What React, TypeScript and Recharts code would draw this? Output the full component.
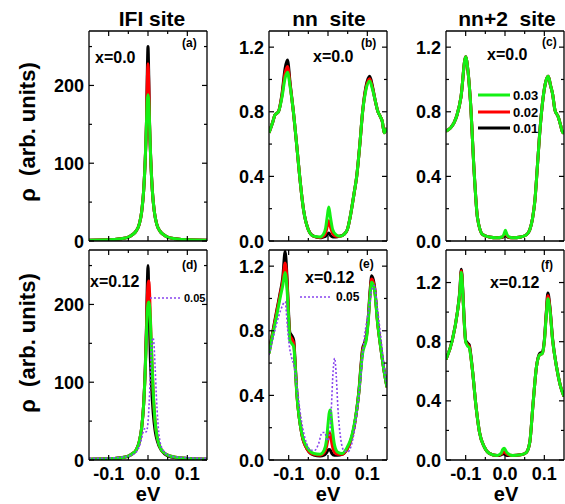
import React from 'react';
import { LineChart, Line, XAxis, YAxis, ReferenceLine } from 'recharts';

const FONT = '"Liberation Sans", Arial, Helvetica, sans-serif';
const BLACK = '#000000';
const RED = '#ff0000';
const GREEN = '#14f014';
const PURPLE = '#8844ee';

// axis ticks
const xTicks = [-0.1, -0.05, 0, 0.05, 0.1];
const ifiTicks = [0, 50, 100, 150, 200, 250];
const nnTicks = [0, 0.2, 0.4, 0.6, 0.8, 1.0, 1.2];

// (a) IFI site, x=0.0
const aX = [-0.15, -0.1, -0.07, -0.05, -0.04, -0.03, -0.022, -0.016, -0.011, -0.007, -0.004, -0.002, 0, 0.002, 0.004, 0.007, 0.011, 0.016, 0.022, 0.03, 0.04, 0.05, 0.07, 0.1, 0.15];
const aBlack = [1, 1.5, 3, 5, 8, 13, 22, 38, 65, 105, 150, 210, 250, 210, 150, 105, 65, 38, 22, 13, 8, 5, 3, 1.5, 1];
const aRed = [1, 1.5, 3, 5, 8, 13, 22, 38, 65, 105, 150, 200, 228, 200, 150, 105, 65, 38, 22, 13, 8, 5, 3, 1.5, 1];
const aGreen = [1, 1.5, 3, 5, 8, 13, 22, 38, 65, 105, 150, 180, 188, 180, 150, 105, 65, 38, 22, 13, 8, 5, 3, 1.5, 1];

// (d) IFI site, x=0.12
const dX = [-0.15, -0.1, -0.07, -0.05, -0.04, -0.03, -0.022, -0.016, -0.011, -0.007, -0.004, -0.002, 0, 0.002, 0.004, 0.006, 0.009, 0.013, 0.018, 0.024, 0.032, 0.042, 0.052, 0.07, 0.1, 0.15];
const dBlack = [1, 1.5, 3, 5, 8, 13, 24, 42, 72, 118, 170, 220, 250, 215, 170, 130, 95, 62, 38, 24, 14, 8, 5, 3, 2, 1];
const dRed = [1, 1.5, 3, 5, 8, 13, 24, 42, 72, 115, 165, 205, 225, 230, 215, 185, 140, 90, 50, 28, 15, 9, 6, 3.5, 2, 1];
const dGreen = [1, 1.5, 3, 5, 8, 13, 24, 42, 72, 115, 160, 190, 200, 203, 198, 180, 140, 90, 50, 28, 15, 9, 6, 3.5, 2, 1];
const dPX = [-0.15, -0.1, -0.07, -0.05, -0.035, -0.025, -0.018, -0.013, -0.009, -0.005, -0.002, 0.001, 0.004, 0.007, 0.01, 0.013, 0.015, 0.018, 0.021, 0.025, 0.03, 0.038, 0.05, 0.07, 0.1, 0.15];
const dPurple = [2, 2.5, 3.5, 5, 8, 14, 24, 35, 40, 36, 40, 55, 85, 125, 150, 157, 150, 120, 85, 50, 25, 13, 7, 4, 3, 2];

// (b) nn site, x=0.0
const bX = [-0.15, -0.14, -0.135, -0.126, -0.117, -0.109, -0.103, -0.096, -0.088, -0.079, -0.072, -0.062, -0.05, -0.037, -0.02, -0.012, -0.006, -0.002, 0.002, 0.006, 0.012, 0.02, 0.03, 0.04, 0.049, 0.058, 0.066, 0.073, 0.081, 0.088, 0.096, 0.106, 0.112, 0.12, 0.127, 0.133, 0.138, 0.143, 0.15];
const bBlack = [0.67, 0.74, 0.78, 0.80, 0.91, 1.07, 1.12, 0.97, 0.80, 0.58, 0.40, 0.19, 0.07, 0.03, 0.02, 0.025, 0.03, 0.04, 0.05, 0.035, 0.025, 0.025, 0.03, 0.04, 0.07, 0.17, 0.29, 0.40, 0.60, 0.80, 0.95, 1.02, 0.97, 0.87, 0.80, 0.77, 0.74, 0.67, 0.70];
const bRed = [0.67, 0.74, 0.78, 0.80, 0.90, 1.04, 1.08, 0.96, 0.80, 0.58, 0.40, 0.19, 0.07, 0.03, 0.022, 0.03, 0.05, 0.09, 0.125, 0.09, 0.045, 0.03, 0.03, 0.04, 0.07, 0.17, 0.29, 0.40, 0.60, 0.80, 0.94, 1.005, 0.96, 0.87, 0.80, 0.77, 0.74, 0.67, 0.70];
const bGreen = [0.67, 0.74, 0.78, 0.80, 0.89, 1.01, 1.045, 0.95, 0.80, 0.58, 0.40, 0.19, 0.07, 0.03, 0.025, 0.04, 0.08, 0.15, 0.21, 0.15, 0.07, 0.04, 0.03, 0.04, 0.07, 0.17, 0.29, 0.40, 0.60, 0.80, 0.93, 0.99, 0.95, 0.87, 0.80, 0.77, 0.74, 0.67, 0.70];

// (e) nn site, x=0.12
const eX = [-0.15, -0.14, -0.13, -0.122, -0.115, -0.109, -0.104, -0.1, -0.097, -0.092, -0.087, -0.083, -0.079, -0.074, -0.07, -0.064, -0.058, -0.048, -0.036, -0.02, -0.01, -0.004, 0.0, 0.003, 0.006, 0.01, 0.016, 0.024, 0.036, 0.049, 0.058, 0.066, 0.073, 0.079, 0.084, 0.088, 0.092, 0.097, 0.102, 0.107, 0.111, 0.118, 0.126, 0.135, 0.142, 0.15];
const eBlack = [0.67, 0.80, 0.93, 1.03, 1.13, 1.29, 1.12, 0.90, 0.79, 0.77, 0.74, 0.58, 0.41, 0.28, 0.21, 0.13, 0.09, 0.05, 0.03, 0.025, 0.03, 0.045, 0.06, 0.065, 0.06, 0.04, 0.03, 0.03, 0.035, 0.07, 0.12, 0.20, 0.31, 0.44, 0.59, 0.69, 0.72, 0.76, 0.87, 1.05, 1.14, 1.08, 0.86, 0.68, 0.56, 0.45];
const eRed = [0.66, 0.79, 0.92, 1.02, 1.11, 1.22, 1.10, 0.88, 0.77, 0.75, 0.72, 0.57, 0.40, 0.28, 0.21, 0.13, 0.09, 0.05, 0.035, 0.03, 0.045, 0.08, 0.13, 0.17, 0.16, 0.10, 0.05, 0.035, 0.035, 0.07, 0.12, 0.20, 0.31, 0.43, 0.58, 0.68, 0.71, 0.75, 0.86, 1.03, 1.12, 1.07, 0.85, 0.68, 0.56, 0.45];
const eGreen = [0.66, 0.78, 0.90, 1.00, 1.08, 1.16, 1.05, 0.87, 0.74, 0.72, 0.70, 0.56, 0.40, 0.28, 0.21, 0.14, 0.10, 0.06, 0.04, 0.035, 0.06, 0.12, 0.22, 0.29, 0.31, 0.22, 0.10, 0.05, 0.04, 0.08, 0.13, 0.21, 0.31, 0.43, 0.57, 0.66, 0.70, 0.74, 0.85, 1.02, 1.10, 1.06, 0.85, 0.68, 0.56, 0.45];
const ePX = [-0.15, -0.14, -0.13, -0.12, -0.109, -0.103, -0.098, -0.092, -0.086, -0.079, -0.071, -0.062, -0.054, -0.044, -0.034, -0.024, -0.015, -0.008, -0.002, 0.003, 0.008, 0.013, 0.017, 0.021, 0.025, 0.029, 0.033, 0.04, 0.05, 0.058, 0.064, 0.07, 0.077, 0.083, 0.088, 0.092, 0.098, 0.105, 0.111, 0.118, 0.125, 0.131, 0.138, 0.144, 0.15];
const ePurple = [0.65, 0.75, 0.85, 0.93, 0.98, 0.82, 0.70, 0.63, 0.58, 0.46, 0.30, 0.17, 0.10, 0.06, 0.06, 0.10, 0.17, 0.17, 0.12, 0.14, 0.30, 0.55, 0.63, 0.52, 0.33, 0.20, 0.12, 0.06, 0.05, 0.08, 0.14, 0.23, 0.36, 0.50, 0.65, 0.75, 0.85, 0.95, 1.05, 1.08, 0.95, 0.83, 0.68, 0.55, 0.46];

// (c) nn+2 site, x=0.0
const cX = [-0.15, -0.13, -0.122, -0.112, -0.1, -0.094, -0.088, -0.078, -0.07, -0.057, -0.04, -0.02, -0.008, -0.003, 0.001, 0.005, 0.01, 0.02, 0.04, 0.055, 0.063, 0.07, 0.076, 0.082, 0.088, 0.097, 0.104, 0.11, 0.116, 0.121, 0.127, 0.135, 0.141, 0.147, 0.15];
const cBlack = [0.68, 0.73, 0.78, 0.89, 1.14, 1.05, 0.87, 0.41, 0.145, 0.04, 0.025, 0.02, 0.022, 0.028, 0.035, 0.028, 0.022, 0.02, 0.025, 0.04, 0.07, 0.14, 0.25, 0.45, 0.66, 0.89, 0.99, 1.02, 0.96, 0.91, 0.81, 0.77, 0.72, 0.67, 0.68];
const cRed = [0.68, 0.73, 0.78, 0.89, 1.14, 1.05, 0.87, 0.41, 0.145, 0.04, 0.025, 0.02, 0.023, 0.032, 0.045, 0.032, 0.023, 0.02, 0.025, 0.04, 0.07, 0.14, 0.25, 0.45, 0.66, 0.89, 0.99, 1.02, 0.96, 0.91, 0.81, 0.77, 0.72, 0.67, 0.68];
const cGreen = [0.68, 0.73, 0.78, 0.89, 1.14, 1.05, 0.87, 0.41, 0.145, 0.04, 0.025, 0.02, 0.025, 0.04, 0.066, 0.04, 0.025, 0.02, 0.025, 0.04, 0.07, 0.14, 0.25, 0.45, 0.66, 0.89, 0.99, 1.02, 0.96, 0.91, 0.81, 0.77, 0.72, 0.67, 0.68];

// (f) nn+2 site, x=0.12
const fX = [-0.15, -0.134, -0.121, -0.115, -0.111, -0.107, -0.104, -0.1, -0.095, -0.091, -0.086, -0.082, -0.074, -0.065, -0.053, -0.04, -0.02, -0.01, -0.006, -0.002, 0.005, 0.02, 0.04, 0.054, 0.063, 0.071, 0.08, 0.088, 0.095, 0.1, 0.105, 0.109, 0.114, 0.121, 0.131, 0.141, 0.15];
const fBlack = [0.68, 0.81, 1.0, 1.14, 1.29, 1.13, 0.96, 0.81, 0.79, 0.78, 0.69, 0.59, 0.37, 0.19, 0.09, 0.045, 0.03, 0.035, 0.04, 0.04, 0.03, 0.03, 0.035, 0.05, 0.12, 0.37, 0.63, 0.72, 0.73, 0.81, 1.0, 1.13, 1.04, 0.82, 0.63, 0.50, 0.43];
const fRed = [0.68, 0.81, 1.0, 1.13, 1.28, 1.12, 0.95, 0.80, 0.78, 0.77, 0.68, 0.59, 0.37, 0.19, 0.09, 0.045, 0.03, 0.04, 0.05, 0.055, 0.04, 0.03, 0.035, 0.05, 0.12, 0.37, 0.63, 0.71, 0.72, 0.80, 0.99, 1.11, 1.03, 0.81, 0.63, 0.50, 0.43];
const fGreen = [0.68, 0.81, 1.0, 1.13, 1.27, 1.12, 0.95, 0.80, 0.77, 0.76, 0.68, 0.59, 0.37, 0.19, 0.09, 0.045, 0.03, 0.045, 0.07, 0.08, 0.05, 0.03, 0.035, 0.05, 0.12, 0.37, 0.63, 0.71, 0.72, 0.80, 0.98, 1.09, 1.02, 0.81, 0.63, 0.50, 0.43];

const zip = (xs: number[], ys: number[]) => xs.map((x, i) => ({ x, y: ys[i] }));

// plot box geometry (pixels)
const PW = 118;
const PH = 210;
const YW = 45;
const XH = 40;
const MT = 2;
const MR = 1;

type Series = { data: { x: number; y: number }[]; color: string; dotted?: boolean };

const isMult = (v: number, step: number) => Math.abs(v / step - Math.round(v / step)) < 1e-6;

function Panel(props: {
  left: number;
  top: number;
  yMax: number;
  yTicks: number[];
  yStep: number;
  yFmt: (v: number) => string;
  xLabels: boolean;
  series: Series[];
}) {
  const { left, top, yMax, yTicks, yStep, yFmt, xLabels, series } = props;
  const W = YW + PW + MR;
  const H = MT + PH + XH;
  const plotRight = W - MR;

  const xTick = (p: any) => {
    const v = p.payload.value;
    const major = isMult(v, 0.1);
    const len = major ? 5 : 3;
    return (
      <g>
        <line x1={p.x} x2={p.x} y1={p.y} y2={p.y - len} stroke="#000" strokeWidth={1.2} />
        <line x1={p.x} x2={p.x} y1={MT} y2={MT + len} stroke="#000" strokeWidth={1.2} />
        {xLabels && major && (
          <text x={p.x} y={p.y + 20} textAnchor="middle" fontFamily={FONT} fontWeight="bold" fontSize={18} fill="#000">
            {v.toFixed(1)}
          </text>
        )}
      </g>
    );
  };

  const yTick = (p: any) => {
    const v = p.payload.value;
    const major = isMult(v, yStep);
    const len = major ? 5 : 3;
    return (
      <g>
        <line x1={p.x} x2={p.x + len} y1={p.y} y2={p.y} stroke="#000" strokeWidth={1.2} />
        <line x1={plotRight} x2={plotRight - len} y1={p.y} y2={p.y} stroke="#000" strokeWidth={1.2} />
        {major && (
          <text x={p.x - 5} y={p.y + 6.5} textAnchor="end" fontFamily={FONT} fontWeight="bold" fontSize={18} fill="#000">
            {yFmt(v)}
          </text>
        )}
      </g>
    );
  };

  return (
    <div style={{ position: 'absolute', left: left - YW, top: top - MT }}>
      <LineChart width={W} height={H} margin={{ top: MT, right: MR, bottom: 0, left: 0 }}>
        <XAxis
          type="number"
          dataKey="x"
          domain={[-0.15, 0.15]}
          ticks={xTicks}
          interval={0}
          allowDataOverflow
          height={XH}
          tickSize={0}
          tickMargin={0}
          tickLine={false}
          axisLine={{ stroke: '#000', strokeWidth: 1.3 }}
          tick={xTick}
        />
        <YAxis
          type="number"
          domain={[0, yMax]}
          ticks={yTicks}
          interval={0}
          allowDataOverflow
          width={YW}
          tickSize={0}
          tickMargin={0}
          tickLine={false}
          axisLine={{ stroke: '#000', strokeWidth: 1.3 }}
          tick={yTick}
        />
        {series.map((s, i) => (
          <Line
            key={i}
            data={s.data}
            dataKey="y"
            type="monotone"
            stroke={s.color}
            strokeWidth={s.dotted ? 1.6 : 3}
            strokeDasharray={s.dotted ? '2 2' : undefined}
            strokeLinejoin="round"
            dot={false}
            activeDot={false}
            isAnimationActive={false}
          />
        ))}
        <ReferenceLine y={yMax} stroke="#000" strokeWidth={1.3} />
        <ReferenceLine x={0.15} stroke="#000" strokeWidth={1.3} />
      </LineChart>
    </div>
  );
}

const fmtInt = (v: number) => String(v);
const fmt1 = (v: number) => v.toFixed(1);

export default function App() {
  const T = { fontFamily: FONT, fontWeight: 'bold' as const, fill: '#000' };
  return (
    <div style={{ position: 'absolute', left: 0, top: 0, width: 565, height: 504, background: '#fff', overflow: 'hidden' }}>
      <Panel left={89} top={31} yMax={270} yTicks={ifiTicks} yStep={100} yFmt={fmtInt} xLabels={false}
        series={[
          { data: zip(aX, aBlack), color: BLACK },
          { data: zip(aX, aRed), color: RED },
          { data: zip(aX, aGreen), color: GREEN },
        ]} />
      <Panel left={269} top={31} yMax={1.3} yTicks={nnTicks} yStep={0.4} yFmt={fmt1} xLabels={false}
        series={[
          { data: zip(bX, bBlack), color: BLACK },
          { data: zip(bX, bRed), color: RED },
          { data: zip(bX, bGreen), color: GREEN },
        ]} />
      <Panel left={446} top={31} yMax={1.3} yTicks={nnTicks} yStep={0.4} yFmt={fmt1} xLabels={false}
        series={[
          { data: zip(cX, cBlack), color: BLACK },
          { data: zip(cX, cRed), color: RED },
          { data: zip(cX, cGreen), color: GREEN },
        ]} />
      <Panel left={89} top={250} yMax={270} yTicks={ifiTicks} yStep={100} yFmt={fmtInt} xLabels
        series={[
          { data: zip(dX, dBlack), color: BLACK },
          { data: zip(dX, dRed), color: RED },
          { data: zip(dX, dGreen), color: GREEN },
          { data: zip(dPX, dPurple), color: PURPLE, dotted: true },
        ]} />
      <Panel left={269} top={250} yMax={1.3} yTicks={nnTicks} yStep={0.4} yFmt={fmt1} xLabels
        series={[
          { data: zip(eX, eBlack), color: BLACK },
          { data: zip(eX, eRed), color: RED },
          { data: zip(eX, eGreen), color: GREEN },
          { data: zip(ePX, ePurple), color: PURPLE, dotted: true },
        ]} />
      <Panel left={446} top={250} yMax={1.42} yTicks={nnTicks} yStep={0.4} yFmt={fmt1} xLabels
        series={[
          { data: zip(fX, fBlack), color: BLACK },
          { data: zip(fX, fRed), color: RED },
          { data: zip(fX, fGreen), color: GREEN },
        ]} />

      <svg width={565} height={504} style={{ position: 'absolute', left: 0, top: 0, pointerEvents: 'none' }}>
        <text {...T} x={152} y={26} fontSize={21} textAnchor="middle">IFI site</text>
        <text {...T} x={329} y={26} fontSize={21} textAnchor="middle" style={{ whiteSpace: 'pre' }}>nn  site</text>
        <text {...T} x={507} y={26} fontSize={21} textAnchor="middle" style={{ whiteSpace: 'pre' }}>nn+2  site</text>

        <text {...T} x={35} y={132} fontSize={22} textAnchor="middle" transform="rotate(-90 35 132)" style={{ whiteSpace: 'pre' }}>ρ  (arb. units)</text>
        <text {...T} x={35} y={343} fontSize={22} textAnchor="middle" transform="rotate(-90 35 343)" style={{ whiteSpace: 'pre' }}>ρ  (arb. units)</text>

        <text {...T} x={148} y={501} fontSize={20} textAnchor="middle">eV</text>
        <text {...T} x={328} y={501} fontSize={20} textAnchor="middle">eV</text>
        <text {...T} x={506} y={501} fontSize={20} textAnchor="middle">eV</text>

        <text {...T} x={95} y={63} fontSize={16}>x=0.0</text>
        <text {...T} x={182} y={47} fontSize={12}>(a)</text>
        <text {...T} x={313} y={62} fontSize={16}>x=0.0</text>
        <text {...T} x={361} y={47} fontSize={12}>(b)</text>
        <text {...T} x={487} y={60} fontSize={16}>x=0.0</text>
        <text {...T} x={542} y={46} fontSize={12}>(c)</text>

        <line x1={478} x2={510} y1={95} y2={95} stroke={GREEN} strokeWidth={3} />
        <text {...T} x={513} y={99.5} fontSize={13}>0.03</text>
        <line x1={478} x2={510} y1={112} y2={112} stroke={RED} strokeWidth={3} />
        <text {...T} x={513} y={116.5} fontSize={13}>0.02</text>
        <line x1={478} x2={510} y1={128} y2={128} stroke={BLACK} strokeWidth={3} />
        <text {...T} x={513} y={132.5} fontSize={13}>0.01</text>

        <text {...T} x={90} y={287} fontSize={16}>x=0.12</text>
        <text {...T} x={182} y={269} fontSize={12}>(d)</text>
        <line x1={150} x2={181} y1={298} y2={298} stroke={PURPLE} strokeWidth={1.6} strokeDasharray="2 2" />
        <text {...T} x={184} y={302} fontSize={11}>0.05</text>

        <text {...T} x={305} y={283} fontSize={16}>x=0.12</text>
        <text {...T} x={359} y={268} fontSize={12}>(e)</text>
        <line x1={300} x2={332} y1={297} y2={297} stroke={PURPLE} strokeWidth={1.6} strokeDasharray="2 2" />
        <text {...T} x={336} y={301} fontSize={12}>0.05</text>

        <text {...T} x={490} y={288} fontSize={16}>x=0.12</text>
        <text {...T} x={541} y={269} fontSize={12}>(f)</text>
      </svg>
    </div>
  );
}
